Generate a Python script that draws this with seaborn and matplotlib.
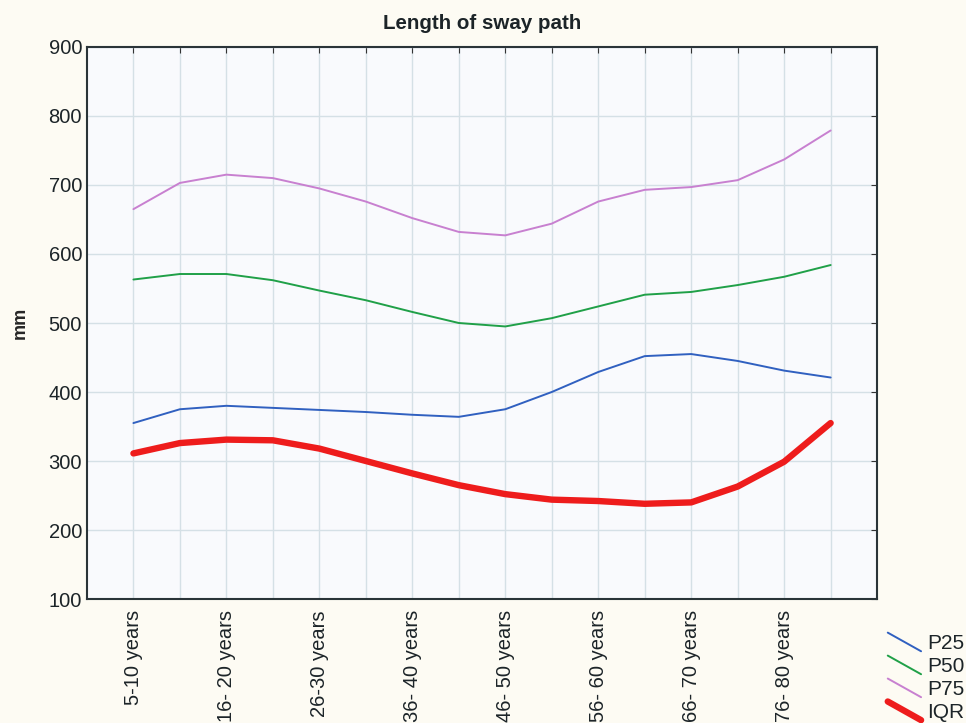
import numpy as np
import pandas as pd
import matplotlib
matplotlib.use("Agg")
import matplotlib.pyplot as plt
import seaborn as sns
from matplotlib.lines import Line2D
from matplotlib.legend_handler import HandlerBase

# age groups (16 positions, every other one labelled)
age_groups = ["5-10 years", "11-15 years", "16- 20 years", "21-25 years",
              "26-30 years", "31-35 years", "36- 40 years", "41-45 years",
              "46- 50 years", "51-55 years", "56- 60 years", "61-65 years",
              "66- 70 years", "71-75 years", "76- 80 years", "81-85 years"]

p25 = [355, 375, 380, 377, 374, 371, 367, 364, 375, 400, 429, 452, 455, 445, 431, 421]
p50 = [563, 571, 571, 562, 547, 533, 516, 500, 495, 507, 524, 541, 545, 555, 567, 584]
p75 = [665, 703, 715, 710, 695, 676, 652, 632, 627, 644, 676, 693, 697, 707, 737, 779]
iqr = [311, 326, 331, 330, 318, 300, 282, 265, 252, 244, 242, 238, 240, 263, 299, 355]

series_names = ["P25", "P50", "P75", "IQR"]
series_colors = ["#3060c0", "#20a048", "#c880d0", "#ee1c1c"]
series_widths = [1.4, 1.4, 1.4, 4.6]

pos = np.arange(len(age_groups))
df = pd.DataFrame({"pos": np.tile(pos, 4),
                   "value": p25 + p50 + p75 + iqr,
                   "series": np.repeat(series_names, len(age_groups))})

sns.set_style("white")
plt.rcParams["font.family"] = ["Liberation Sans", "DejaVu Sans"]
plt.rcParams["text.color"] = "#1c2428"
plt.rcParams["xtick.labelcolor"] = "#1c2428"
plt.rcParams["ytick.labelcolor"] = "#1c2428"

fig = plt.figure(figsize=(9.66, 7.23), dpi=100, facecolor="#fdfbf3")
ax = fig.add_axes([0.090, 0.1715, 0.818, 0.7635])
ax.set_facecolor("#f9fafd")

for name, col, lw in zip(series_names, series_colors, series_widths):
    sub = df[df["series"] == name]
    sns.lineplot(data=sub, x="pos", y="value", ax=ax, color=col, linewidth=lw,
                 label=name, legend=False)

ax.set_xlim(-1, 16)
ax.set_ylim(100, 900)
ax.set_xticks(pos)
ax.set_xticklabels([g if i % 2 == 0 else "" for i, g in enumerate(age_groups)],
                   rotation=90, fontsize=14.5)
ax.set_yticks(np.arange(100, 901, 100))
ax.tick_params(axis="y", labelsize=14.5, direction="in", length=4, right=True,
               left=False, color="#333333")
ax.tick_params(axis="x", direction="in", length=4, top=True, color="#333333", pad=8)
ax.grid(True, color="#d5e0e6", linewidth=1)
for s in ax.spines.values():
    s.set_color("#2a3438")
    s.set_linewidth(1.5)

ax.set_xlabel("")
ax.set_ylabel("mm", fontsize=13, fontweight="bold", labelpad=14)
ax.set_title("Length of sway path", fontsize=14.8, fontweight="bold", pad=13)


class DiagHandler(HandlerBase):
    def create_artists(self, legend, orig_handle, xdescent, ydescent,
                       width, height, fontsize, trans):
        line = Line2D([-xdescent, -xdescent + width],
                      [-ydescent + height, -ydescent])
        line.update_from(orig_handle)
        line.set_transform(trans)
        return [line]


handles = [Line2D([], [], color=c, linewidth=w) for c, w in zip(series_colors, series_widths)]
fig.legend(handles, series_names, loc="upper left", bbox_to_anchor=(0.919, 0.125),
           frameon=False, fontsize=15, handlelength=1.6, handleheight=1.0,
           handletextpad=0.3, labelspacing=0.12, borderpad=0, borderaxespad=0,
           handler_map={Line2D: DiagHandler()})

fig.savefig("out.png", dpi=100, facecolor=fig.get_facecolor())
